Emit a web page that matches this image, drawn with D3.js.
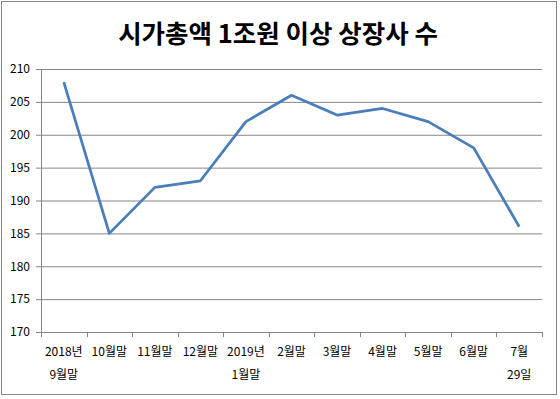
<!DOCTYPE html>
<html>
<head>
<meta charset="utf-8">
<script src="https://cdn.jsdelivr.net/npm/d3@7"></script>
<style>
  body { margin: 0; background: #fff; }
  svg { display: block; font-family: "Noto Sans CJK KR", "Noto Sans", sans-serif; }
</style>
</head>
<body>
<div id="chart"></div>
<script>
// chart data
const titleText = '시가총액 1조원 이상 상장사 수';
const categories = [
  ['2018년', '9월말'], ['10월말'], ['11월말'], ['12월말'], ['2019년', '1월말'],
  ['2월말'], ['3월말'], ['4월말'], ['5월말'], ['6월말'], ['7월', '29일']
];
const values = [208, 185, 192, 193, 202, 206, 203, 204, 202, 198, 186];
const yTicks = [170, 175, 180, 185, 190, 195, 200, 205, 210];

const W = 560, H = 399;
const plot = { left: 41, right: 542, top: 69, bottom: 332 };
const gridColor = '#868686';

const svg = d3.select('#chart').append('svg')
    .attr('width', W)
    .attr('height', H);

// outer border
svg.append('rect')
    .attr('x', 1.5).attr('y', 1.5)
    .attr('width', 555).attr('height', 393)
    .attr('fill', '#fff')
    .attr('stroke', gridColor);

svg.append('text')
    .attr('x', 278).attr('y', 43)
    .attr('text-anchor', 'middle')
    .style('font-size', '25.5px')
    .style('font-weight', 'bold')
    .style('fill', '#000')
    .text(titleText);

const keys = categories.map((c, i) => i);
const scaleX = d3.scaleBand().domain(keys).range([plot.left, plot.right]).padding(0);
const scaleY = d3.scaleLinear().domain([170, 210]).range([plot.bottom, plot.top]);

// horizontal gridlines
svg.append('g')
    .attr('transform', 'translate(' + plot.left + ',0)')
    .call(d3.axisLeft(scaleY).tickValues(yTicks).tickSize(-(plot.right - plot.left)).tickFormat(''))
    .call(g => g.select('.domain').remove())
    .call(g => g.selectAll('line').attr('stroke', gridColor));

// y axis with outer ticks and labels
svg.append('g')
    .attr('transform', 'translate(' + plot.left + ',0)')
    .call(d3.axisLeft(scaleY).tickValues(yTicks).tickSizeInner(5).tickSizeOuter(0).tickPadding(6))
    .call(g => g.select('.domain').attr('stroke', gridColor))
    .call(g => g.selectAll('line').attr('stroke', gridColor))
    .call(g => g.selectAll('text')
        .style('font-size', '12px')
        .style('fill', '#000')
        .style('font-family', '"Noto Sans CJK KR", sans-serif'));

// x axis line and tick marks at band edges
const xAxis = svg.append('g');
xAxis.append('line')
    .attr('x1', plot.left).attr('x2', plot.right)
    .attr('y1', plot.bottom + 0.5).attr('y2', plot.bottom + 0.5)
    .attr('stroke', gridColor);
const edges = keys.map(k => scaleX(k)).concat([scaleX.range()[1]]);
xAxis.selectAll('.tickmark')
    .data(edges)
    .enter().append('line')
    .attr('x1', d => Math.round(d) + 0.5)
    .attr('x2', d => Math.round(d) + 0.5)
    .attr('y1', plot.bottom)
    .attr('y2', plot.bottom + 5)
    .attr('stroke', gridColor);

// category labels (1 or 2 lines)
const labels = xAxis.selectAll('.lbl')
    .data(categories)
    .enter().append('text')
    .attr('text-anchor', 'middle')
    .style('font-size', '12px')
    .style('fill', '#000');
labels.selectAll('tspan')
    .data((d, i) => d.map((t, j) => ({ t, j, i })))
    .enter().append('tspan')
    .attr('x', d => scaleX(d.i) + scaleX.bandwidth() / 2)
    .attr('y', d => 356 + d.j * 23)
    .text(d => d.t);

// the line
svg.append('path')
    .datum(values)
    .attr('fill', 'none')
    .attr('stroke', '#4a7ebb')
    .attr('stroke-width', 2.75)
    .attr('stroke-linejoin', 'round')
    .attr('d', d3.line()
        .x((d, i) => scaleX(i) + scaleX.bandwidth() / 2)
        .y(d => scaleY(d)));
</script>
</body>
</html>
